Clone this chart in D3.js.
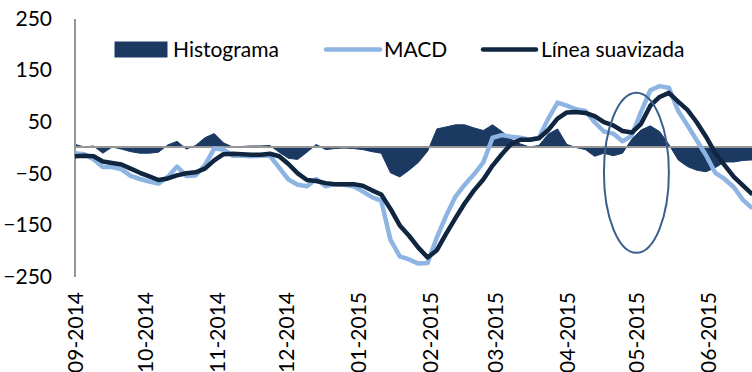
<!DOCTYPE html>
<html>
<head>
<meta charset="utf-8">
<script src="https://cdn.jsdelivr.net/npm/d3@7"></script>
<style>
  html, body { margin: 0; padding: 0; background: #ffffff; }
  svg { display: block; }
  text { font-family: Lato, "Open Sans", sans-serif; fill: #000; }
</style>
</head>
<body>
<svg id="chart" width="752" height="372"></svg>
<script>
// Sample dates (every 4 days) for the MACD study
const dates = [
  "2014-09-01","2014-09-05","2014-09-09","2014-09-13","2014-09-17","2014-09-21","2014-09-25","2014-09-29",
  "2014-10-03","2014-10-07","2014-10-11","2014-10-15","2014-10-19","2014-10-23","2014-10-27","2014-10-31",
  "2014-11-04","2014-11-08","2014-11-12","2014-11-16","2014-11-20","2014-11-24","2014-11-28",
  "2014-12-02","2014-12-06","2014-12-10","2014-12-14","2014-12-18","2014-12-22","2014-12-26","2014-12-30",
  "2015-01-03","2015-01-07","2015-01-11","2015-01-15","2015-01-19","2015-01-23","2015-01-27","2015-01-31",
  "2015-02-04","2015-02-08","2015-02-12","2015-02-16","2015-02-20","2015-02-24","2015-02-28",
  "2015-03-04","2015-03-08","2015-03-12","2015-03-16","2015-03-20","2015-03-24","2015-03-28",
  "2015-04-01","2015-04-05","2015-04-09","2015-04-13","2015-04-17","2015-04-21","2015-04-25","2015-04-29",
  "2015-05-03","2015-05-07","2015-05-11","2015-05-15","2015-05-19","2015-05-23","2015-05-27","2015-05-31",
  "2015-06-04","2015-06-08","2015-06-12","2015-06-16","2015-06-20"
];

// MACD line
const macd = [
  -12, -14, -24, -39, -39, -43, -56, -62,
  -67, -71, -58, -38, -56, -55, -35, -3,
  -5, -17, -17, -18, -17, -17, -40,
  -63, -73, -76, -62, -76, -72, -73, -76,
  -86, -97, -104, -180, -212, -218, -226, -225,
  -175, -133, -96, -73, -53, -30, 18,
  23, 20, 18, 14, 18, 55, 86,
  80, 73, 70, 48, 30, 26, 11, 22,
  68, 110, 118, 115, 70, 42, 13, -16,
  -50, -62, -78, -103, -119
];

// Signal line ("Línea suavizada")
const signal = [
  -18, -17, -18, -28, -31, -34, -42, -50,
  -57, -64, -61, -55, -51, -49, -42, -26,
  -14, -13, -14, -15, -15, -13, -18,
  -33, -51, -64, -66, -70, -72, -72, -72,
  -75, -84, -92, -120, -152, -172, -195, -214,
  -200, -168, -138, -109, -84, -63, -36,
  -14, 6, 14, 14, 17, 33, 55,
  67, 68, 66, 60, 48, 42, 31, 28,
  45, 80, 97, 105, 88, 72, 48, 20,
  -12, -35, -58, -75, -92
];

// Histogram
const histogram = [
  5, 0, 2, -12, 0, -4, -9, -12,
  -12, -10, 4, 11, -4, 3, 18, 26,
  8, 0, 1, 2, 2, 3, -10,
  -22, -24, -10, 5, -5, -3, -2, -3,
  -5, -9, -12, -50, -58, -45, -30, -8,
  35, 39, 43, 43, 37, 32, 43,
  30, 15, 6, 0, 3, 25, 35,
  5, -1, -5, -18, -12, -17, -12, 15,
  33, 41, 30, 5, -25, -38, -45, -48,
  -40, -29, -29, -26, -25
];

// Axis ticks
const yTicks = [250, 150, 50, -50, -150, -250];
const xTickDates = [
  "2014-09-01","2014-10-01","2014-11-01","2014-12-01","2015-01-01",
  "2015-02-01","2015-03-01","2015-04-01","2015-05-01","2015-06-01"
];
const xTickLabels = [
  "09-2014","10-2014","11-2014","12-2014","01-2015",
  "02-2015","03-2015","04-2015","05-2015","06-2015"
];

// Legend entries
const legendLabels = ["Histograma", "MACD", "Línea suavizada"];

// Highlighted zone (ellipse): centre date/value and half extents
const highlightCenter = { date: "2015-05-01", value: -50 };
const highlightHalfDays = 14;
const highlightHalfValue = 155;

const colors = {
  hist: "#1b3961",
  histEdge: "#1a3a66",
  macd: "#8db4e2",
  signal: "#10253f",
  axis: "#969696",
  ellipse: "#3b5f8c"
};

const fontSize = 21;

const parse = d3.timeParse("%Y-%m-%d");
const rows = dates.map((d, i) => ({
  date: parse(d), macd: macd[i], signal: signal[i], hist: histogram[i]
}));

const svg = d3.select("#chart");
const plotLeft = 75, plotRight = 752.4, plotTop = 18, plotBottom = 276;

const x = d3.scaleTime()
  .domain([parse("2014-09-01"), parse("2015-06-20")])
  .range([plotLeft, plotRight]);
const y = d3.scaleLinear().domain([-250, 250]).range([plotBottom, plotTop]);

// Histogram area
const area = d3.area()
  .x(d => x(d.date))
  .y0(y(0))
  .y1(d => y(d.hist));
svg.append("path")
  .datum(rows)
  .attr("d", area)
  .attr("fill", colors.hist)
  .attr("stroke", colors.histEdge)
  .attr("stroke-width", 1);

// Zero line (category axis)
svg.append("line")
  .attr("x1", plotLeft).attr("x2", 752)
  .attr("y1", y(0)).attr("y2", y(0))
  .attr("stroke", colors.axis).attr("stroke-width", 2);

// Value axis
const yAxis = d3.axisLeft(y).tickValues(yTicks).tickSize(0).tickPadding(23)
  .tickFormat(d3.format("d"));
const yg = svg.append("g").attr("transform", `translate(${plotLeft},0)`).call(yAxis);
yg.select(".domain").attr("stroke", colors.axis).attr("stroke-width", 2)
  .attr("d", `M0,${y(250) + 1}V${y(-250) + 1}`);
yg.selectAll("text")
  .attr("font-family", "Lato, sans-serif")
  .attr("font-size", fontSize)
  .attr("fill", "#000")
  .attr("dy", "0.35em");

// Date axis labels, rotated
const xAxis = d3.axisBottom(x)
  .tickValues(xTickDates.map(parse))
  .tickSize(0)
  .tickFormat((d, i) => xTickLabels[i]);
const xg = svg.append("g").attr("transform", `translate(0,${plotBottom})`).call(xAxis);
xg.select(".domain").remove();
xg.selectAll("text")
  .attr("font-family", "Lato, sans-serif")
  .attr("font-size", fontSize)
  .attr("fill", "#000")
  .attr("transform", "rotate(-90)")
  .attr("text-anchor", "end")
  .attr("x", -16)
  .attr("y", 0)
  .attr("dy", "0.36em");

// MACD and signal lines
const lineOf = key => d3.line().x(d => x(d.date)).y(d => y(d[key]));
svg.append("path")
  .datum(rows)
  .attr("d", lineOf("macd"))
  .attr("fill", "none")
  .attr("stroke", colors.macd)
  .attr("stroke-width", 4.5)
  .attr("stroke-linejoin", "round");
svg.append("path")
  .datum(rows)
  .attr("d", lineOf("signal"))
  .attr("fill", "none")
  .attr("stroke", colors.signal)
  .attr("stroke-width", 4.5)
  .attr("stroke-linejoin", "round");

// Highlight ellipse
const cDate = parse(highlightCenter.date);
svg.append("ellipse")
  .attr("cx", x(cDate))
  .attr("cy", y(highlightCenter.value))
  .attr("rx", x(d3.timeDay.offset(cDate, highlightHalfDays)) - x(cDate))
  .attr("ry", y(highlightCenter.value - highlightHalfValue) - y(highlightCenter.value))
  .attr("fill", "none")
  .attr("stroke", colors.ellipse)
  .attr("stroke-width", 2);

// Legend
const legend = svg.append("g").attr("font-family", "Lato, sans-serif").attr("font-size", fontSize);
const lg0 = legend.append("g").attr("transform", "translate(115,42)");
lg0.append("rect").attr("width", 52).attr("height", 15)
  .attr("fill", colors.hist).attr("stroke", colors.histEdge);
lg0.append("text").attr("x", 58).attr("y", 7.5).attr("dy", "0.35em").text(legendLabels[0]);

const lg1 = legend.append("g").attr("transform", "translate(325,49.5)");
lg1.append("line").attr("x1", 1).attr("x2", 55).attr("stroke", colors.macd)
  .attr("stroke-width", 4.5).attr("stroke-linecap", "round");
lg1.append("text").attr("x", 59).attr("y", 0).attr("dy", "0.35em").text(legendLabels[1]);

const lg2 = legend.append("g").attr("transform", "translate(482,49.5)");
lg2.append("line").attr("x1", 1).attr("x2", 54).attr("stroke", colors.signal)
  .attr("stroke-width", 4.5).attr("stroke-linecap", "round");
lg2.append("text").attr("x", 59).attr("y", 0).attr("dy", "0.35em").text(legendLabels[2]);
</script>
</body>
</html>
